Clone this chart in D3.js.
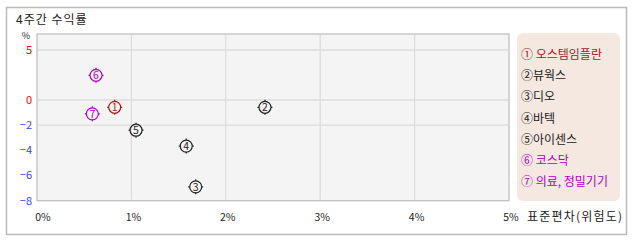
<!DOCTYPE html>
<html><head><meta charset="utf-8">
<script src="https://cdn.jsdelivr.net/npm/d3@7"></script>
<style>
body{margin:0;background:#fff;}
text{font-family:"Noto Sans CJK KR","Noto Sans",sans-serif;}
</style></head>
<body><svg id="c" width="638" height="242"></svg>
<script>
const labels = ["오스템임플란","뷰웍스","디오","바텍","아이센스","코스닥","의료, 정밀기기"];
const circled = ["①","②","③","④","⑤","⑥","⑦"];
const legendSep = [" ","","","",""," "," "];
const riskValues = [0.823, 2.415, 1.681, 1.581, 1.049, 0.625, 0.586];
const returnValues = [-0.58, -0.58, -6.9, -3.66, -2.4, 2.47, -1.10];
const groups = ["stock","peer","peer","peer","peer","index","index"];
const xTicks = [0,1,2,3,4,5];
const yTicks = [5,0,-2,-4,-6,-8];
const yGrid = [5,0,-2];
const title = "4주간 수익률";
const xTitle = "표준편차(위험도)";

const colors = {stock:"#a81818", peer:"#222222", index:"#b000c0"};
const svg = d3.select("#c");
const L=37, R=509, T=34, B=200.7;

svg.append("rect").attr("x",6.5).attr("y",7.5).attr("width",620).attr("height",227)
  .attr("fill","#fff").attr("stroke","#bbb").attr("stroke-width",1.5);
svg.append("text").attr("x",16).attr("y",24).attr("font-size",12).attr("letter-spacing","1px").attr("fill","#222").text(title);

const x = d3.scaleLinear().domain([0,5]).range([L,R]);
const y = d3.scaleLinear().domain([-8,0,5,6.6]).range([B,100,50,T]);

svg.append("rect").attr("x",L).attr("y",T).attr("width",R-L).attr("height",B-T)
  .attr("fill","#f4f4f4").attr("stroke","#bbb").attr("stroke-width",1.2);

svg.append("g").selectAll("line").data(xTicks.filter(d=>d>0&&d<5)).join("line")
  .attr("x1",d=>x(d)).attr("x2",d=>x(d)).attr("y1",T+1).attr("y2",B-1)
  .attr("stroke","#dcdcdc").attr("stroke-width",1.3);
svg.append("g").selectAll("line").data(yGrid).join("line")
  .attr("x1",L+1).attr("x2",R-1).attr("y1",d=>y(d)).attr("y2",d=>y(d))
  .attr("stroke","#dcdcdc").attr("stroke-width",1.3);

svg.append("g").selectAll("text").data(yTicks).join("text")
  .attr("x",32).attr("y",d=>y(d)).attr("dy","0.35em").attr("text-anchor","end")
  .attr("font-size",11).attr("fill",d=>d>=0?"#ff0000":"#3344ee")
  .text(d=>d<0?"\u2212"+Math.abs(d):d);
svg.append("text").attr("x",26).attr("y",39).attr("text-anchor","middle").attr("font-size",9).attr("fill","#222").text("%");

svg.append("g").selectAll("text").data(xTicks).join("text")
  .attr("x",d=>x(d)+(d===0?6:2)).attr("y",217).attr("dy","0.35em").attr("text-anchor","middle")
  .attr("font-size",10.5).attr("fill","#222").text(d=>d+"%");
svg.append("text").attr("x",527).attr("y",217).attr("dy","0.35em").attr("font-size",12).attr("letter-spacing","1.2px").attr("fill","#222").text(xTitle);

const pts = svg.append("g").selectAll("g").data(labels.map((l,i)=>i)).join("g")
  .attr("transform",i=>`translate(${x(riskValues[i])},${y(returnValues[i])})`);
pts.each(function(i){
  const g=d3.select(this), c=colors[groups[i]];
  g.append("circle").attr("r",6).attr("fill","none").attr("stroke",c).attr("stroke-width",1.2);
  [[0,-6,0,-7.5],[0,6,0,7.5],[-6,0,-7.5,0],[6,0,7.5,0]].forEach(s=>
    g.append("line").attr("x1",s[0]).attr("y1",s[1]).attr("x2",s[2]).attr("y2",s[3]).attr("stroke",c).attr("stroke-width",1.2));
  g.append("text").attr("text-anchor","middle").attr("dy","0.36em").attr("font-size",10.5).attr("fill",c).text(i+1);
});

svg.append("rect").attr("x",517).attr("y",33).attr("width",103).attr("height",168).attr("rx",6)
  .attr("fill","#f5e8e0");
svg.append("g").selectAll("text").data(labels.map((l,i)=>i)).join("text")
  .attr("x",521).attr("y",i=>55+i*21.1).attr("dy","0.35em").attr("font-size",12)
  .attr("fill",i=>colors[groups[i]]).text(i=>circled[i]+legendSep[i]+labels[i]);
</script></body></html>
